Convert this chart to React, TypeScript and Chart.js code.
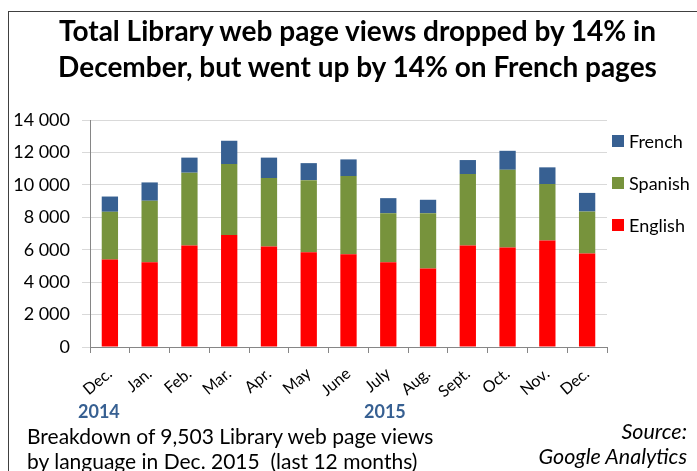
import React, { useEffect, useRef } from "react";
import { Chart, registerables } from "chart.js";

Chart.register(...registerables);

const categories = ["Dec.", "Jan.", "Feb.", "Mar.", "Apr.", "May", "June", "July", "Aug.", "Sept.", "Oct.", "Nov.", "Dec."];
const english = [5390, 5230, 6260, 6900, 6200, 5850, 5720, 5230, 4840, 6260, 6140, 6570, 5765];
const spanish = [2950, 3790, 4490, 4380, 4220, 4440, 4820, 3020, 3410, 4410, 4790, 3480, 2590];
const french = [940, 1130, 930, 1440, 1260, 1050, 1030, 930, 830, 860, 1170, 1030, 1148];
const seriesNames = ["English", "Spanish", "French"];
const seriesColors = ["#FF0000", "#77933C", "#376092"];
const yTicks = [0, 2000, 4000, 6000, 8000, 10000, 12000, 14000];
const titleLines = ["Total Library web page views dropped by 14% in", "December, but went up by 14% on French pages"];
const yearLabels = ["2014", "2015"];
const captionLines = ["Breakdown of 9,503 Library web page views", "by language in Dec. 2015  (last 12 months)"];
const sourceLines = ["Source:", "Google Analytics"];

const FONT = "Lato, 'Open Sans', sans-serif";

const legendPlugin = {
  id: "customLegend",
  afterDraw(chart: any) {
    const { ctx, chartArea } = chart;
    const ds = chart.data.datasets.slice().reverse();
    ctx.save();
    ctx.font = `18px ${FONT}`;
    ctx.textBaseline = "middle";
    ctx.textAlign = "left";
    ds.forEach((d: any, i: number) => {
      const cy = chartArea.top + 21 + i * 42;
      const x = chartArea.right + 5;
      ctx.fillStyle = d.backgroundColor;
      ctx.fillRect(x, cy - 6, 12, 12);
      ctx.fillStyle = "#000";
      ctx.fillText(d.label, x + 17, cy + 1);
    });
    ctx.restore();
  },
};

function formatThousands(v: number) {
  const s = String(Math.round(v));
  return s.replace(/\B(?=(\d{3})+(?!\d))/g, " ");
}

export default function App() {
  const canvasRef = useRef<HTMLCanvasElement | null>(null);

  useEffect(() => {
    const canvas = canvasRef.current;
    if (!canvas) return;
    const values = [english, spanish, french];
    const chart = new Chart(canvas, {
      type: "bar",
      data: {
        labels: categories,
        datasets: values.map((v, i) => ({
          label: seriesNames[i],
          data: v,
          backgroundColor: seriesColors[i],
          borderWidth: 0,
          categoryPercentage: 1,
          barPercentage: 0.41,
        })),
      },
      options: {
        responsive: false,
        animation: false,
        maintainAspectRatio: false,
        layout: { padding: { left: 8, right: 90, top: 120, bottom: 0 } },
        plugins: {
          legend: { display: false },
          title: { display: false },
          tooltip: { enabled: false },
        },
        scales: {
          x: {
            stacked: true,
            offset: true,
            grid: {
              display: true,
              offset: true,
              drawOnChartArea: false,
              drawTicks: true,
              tickLength: 6,
              color: "#868686",
            },
            border: { display: true, color: "#868686", width: 1 },
            ticks: {
              autoSkip: false,
              maxRotation: 40,
              minRotation: 40,
              padding: 11,
              color: "#000",
              font: { family: FONT, size: 16 },
            },
            afterFit(axis: any) {
              axis.height = 124;
            },
          },
          y: {
            stacked: true,
            min: 0,
            max: 14000,
            afterBuildTicks(axis: any) {
              axis.ticks = yTicks.map((v) => ({ value: v }));
            },
            grid: {
              color: "#d9d9d9",
              tickLength: 8,
              drawTicks: true,
            },
            border: { display: true, color: "#868686", width: 1 },
            ticks: {
              padding: 12,
              color: "#000",
              font: { family: FONT, size: 18 },
              callback: (v: any) => formatThousands(Number(v)),
            },
            afterFit(axis: any) {
              axis.width = 82;
            },
          },
        },
      },
      plugins: [legendPlugin],
    });
    return () => chart.destroy();
  }, []);

  return (
    <div style={{ position: "fixed", left: 0, top: 0, width: 697, height: 471, overflow: "hidden", background: "#fff", fontFamily: FONT }}>
      <div style={{ position: "absolute", left: 8, top: 11, width: 800, height: 600, borderLeft: "1px solid #404040", borderTop: "1px solid #404040" }} />
      <canvas ref={canvasRef} width={697} height={471} style={{ position: "absolute", left: 0, top: 0, width: 697, height: 471 }} />
      <div style={{ position: "absolute", left: 0, top: 12, width: 715, textAlign: "center", fontWeight: 700, fontSize: 28, lineHeight: "36px", color: "#000" }}>
        {titleLines.map((t, i) => (<div key={i}>{t}</div>))}
      </div>
      <div style={{ position: "absolute", left: 78, top: 400, fontWeight: 700, fontSize: 18, lineHeight: "22px", color: "#376092" }}>{yearLabels[0]}</div>
      <div style={{ position: "absolute", left: 364, top: 400, fontWeight: 700, fontSize: 18, lineHeight: "22px", color: "#376092" }}>{yearLabels[1]}</div>
      <div style={{ position: "absolute", left: 27, top: 423, fontSize: 21, lineHeight: "25px", color: "#000", whiteSpace: "pre" }}>
        {captionLines.map((t, i) => (<div key={i}>{t}</div>))}
      </div>
      <div style={{ position: "absolute", right: 10, top: 419, fontSize: 21.5, lineHeight: "25px", color: "#000", fontStyle: "italic", textAlign: "right", whiteSpace: "pre" }}>
        {sourceLines.map((t, i) => (<div key={i}>{t}</div>))}
      </div>
    </div>
  );
}
